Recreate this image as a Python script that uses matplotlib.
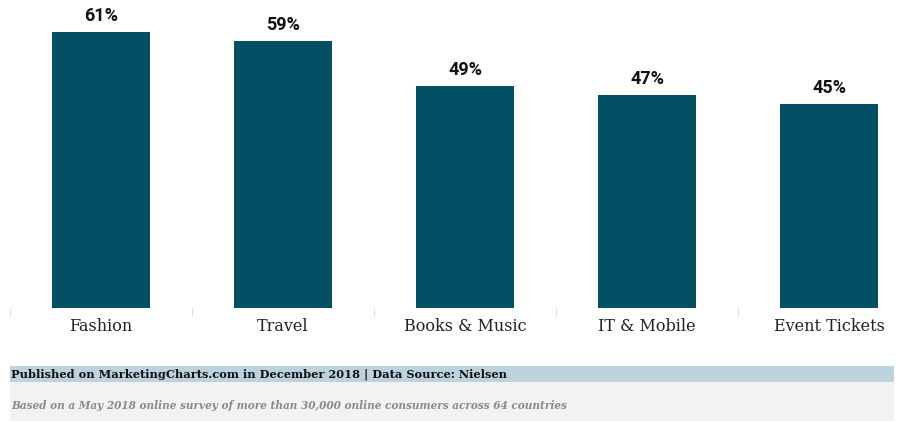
#!/usr/bin/env python
'''
share of online shoppers by category - bar chart with footer
'''
import matplotlib
matplotlib.use('Agg')
import matplotlib.pyplot as plt
from matplotlib.patches import Rectangle

categories = ['Fashion', 'Travel', 'Books & Music', 'IT & Mobile', 'Event Tickets']
shares = [61, 59, 49, 47, 45]
value_labels = ['61%', '59%', '49%', '47%', '45%']

source_note = 'Published on MarketingCharts.com in December 2018 | Data Source: Nielsen'
method_note = 'Based on a May 2018 online survey of more than 30,000 online consumers across 64 countries'

W, H = 908, 423
fig = plt.figure(figsize=(W/100., H/100.), dpi=100)
fig.patch.set_facecolor('white')

# axes: baseline at y=308px, 61% top at y=32px; slots of 182px starting at x=10
ybase = 308.
ppu = (308. - 32.) / 61.
ytop = 0.
ymax = (ybase - ytop) / ppu
ax = fig.add_axes([10./W, (H-ybase)/H, 910./W, (ybase-ytop)/H])
ax.set_xlim(-0.5, 4.5)
ax.set_ylim(0, ymax)

x = range(len(categories))
bars = ax.bar(x, shares, width=0.54, color='#034f63', zorder=2)
for xi, v, lab in zip(x, shares, value_labels):
    ax.text(xi, v + 1.6, lab, ha='center', va='bottom', fontsize=13,
            fontweight='bold', family='Roboto', color='#111111')

for s in ax.spines.values():
    s.set_visible(False)
ax.axhline(0, color='#cccccc', lw=0.8, ls=(0, (2, 1.5)), zorder=1)
ax.set_yticks([])
ax.set_xticks([i - 0.5 for i in range(len(categories) + 1)], minor=False)
ax.set_xticklabels([])
ax.tick_params(axis='x', length=6, color='#dddddd', width=0.8)
for xi, c in zip(x, categories):
    ax.text(xi, -2.2, c, ha='center', va='top', fontsize=11.5,
            family='DejaVu Serif', color='#222222')

# footer bands
fig.add_artist(Rectangle((10./W, (H-382.)/H), 884./W, 16./H,
                         transform=fig.transFigure, facecolor='#bcd3de', edgecolor='none'))
fig.add_artist(Rectangle((10./W, (H-421.)/H), 884./W, 39./H,
                         transform=fig.transFigure, facecolor='#f2f2f2', edgecolor='none'))
fig.text(11./W, (H-374.)/H, source_note, ha='left', va='center', fontsize=8.2,
         fontweight='bold', family='DejaVu Serif', color='#111111')
fig.text(11./W, (H-405.)/H, method_note, ha='left', va='center', fontsize=7.6,
         style='italic', fontweight='bold', family='DejaVu Serif', color='#8a8a8a')

fig.savefig('out.png', dpi=100)
